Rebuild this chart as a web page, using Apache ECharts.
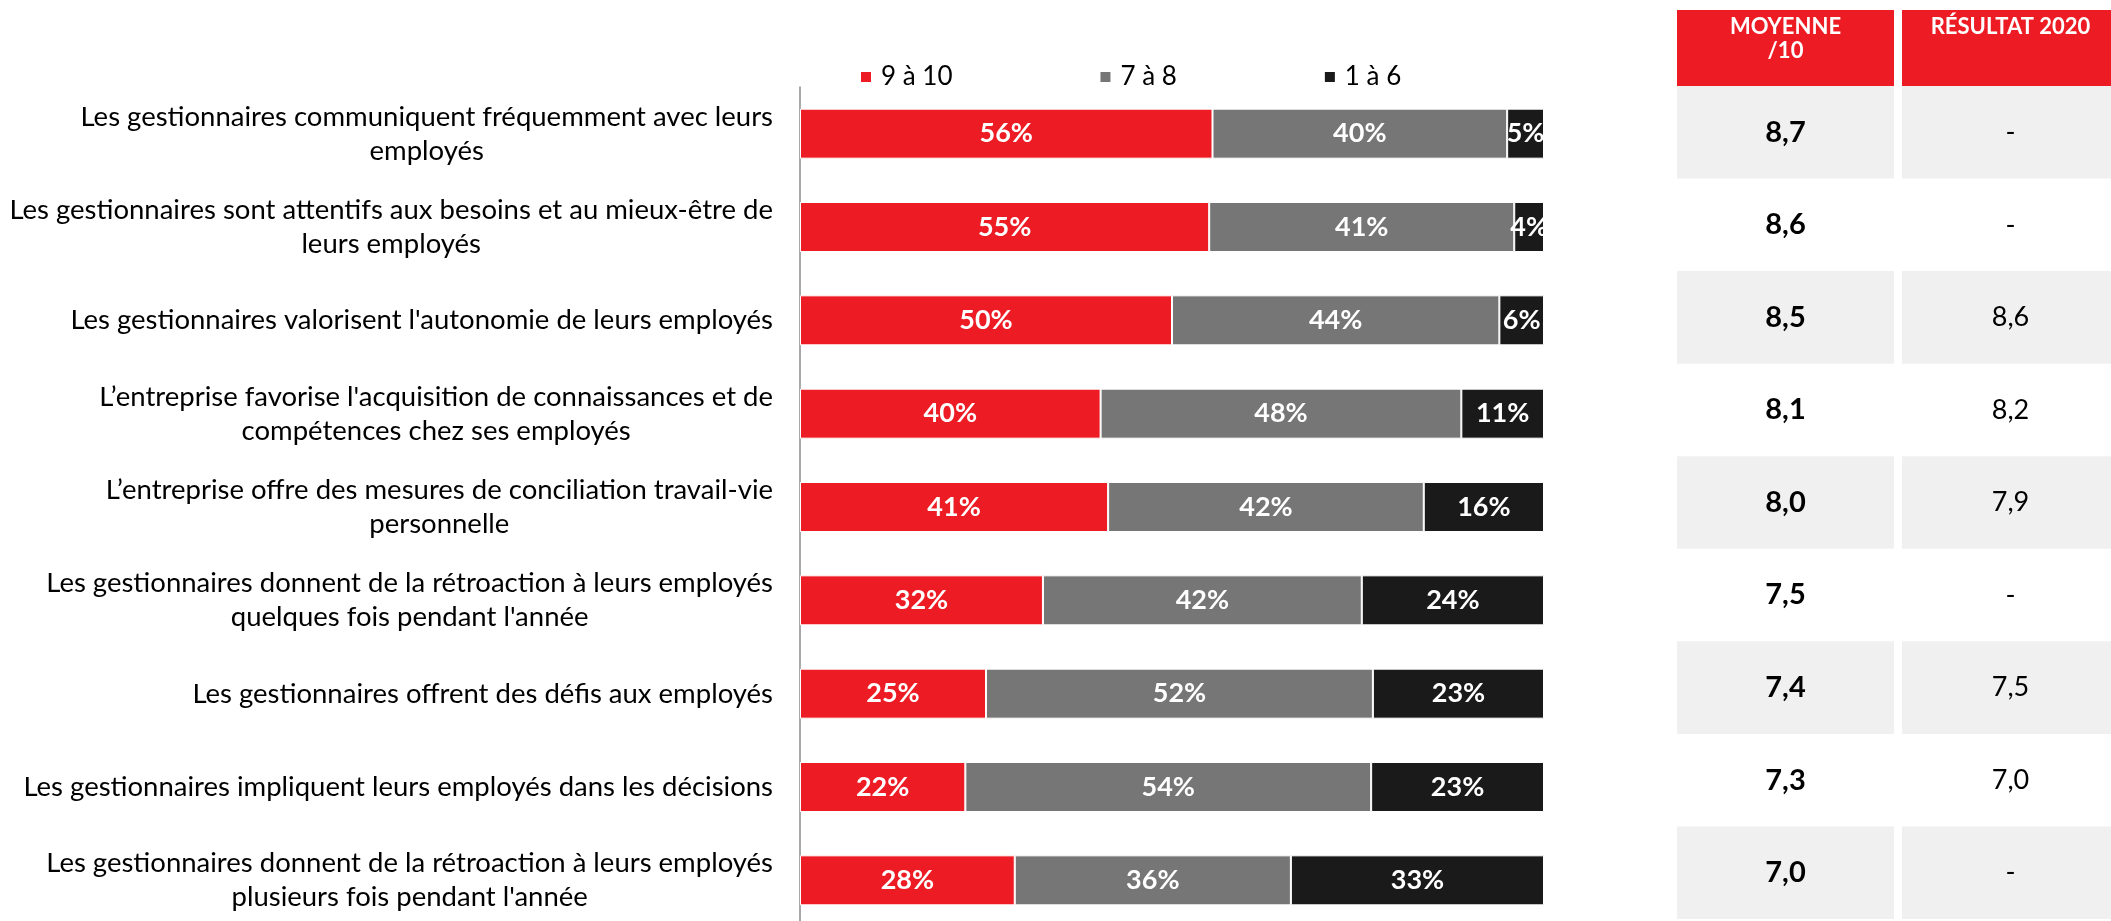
<!DOCTYPE html>
<html>
<head>
<meta charset="utf-8">
<script src="https://cdn.jsdelivr.net/npm/echarts@6/dist/echarts.min.js"></script>
<style>
  html, body { margin: 0; padding: 0; background: #ffffff; }
  #chart { width: 2111px; height: 921px; }
</style>
</head>
<body>
<div id="chart"></div>
<script>
// Statements (one per row, with their own line breaks)
const categories = [
  "Les gestionnaires communiquent fréquemment avec leurs\nemployés",
  "Les gestionnaires sont attentifs aux besoins et au mieux-être de\nleurs employés",
  "Les gestionnaires valorisent l'autonomie de leurs employés",
  "L’entreprise favorise l'acquisition de connaissances et de\ncompétences chez ses employés",
  "L’entreprise offre des mesures de conciliation travail-vie\npersonnelle",
  "Les gestionnaires donnent de la rétroaction à leurs employés\nquelques fois pendant l'année",
  "Les gestionnaires offrent des défis aux employés",
  "Les gestionnaires impliquent leurs employés dans les décisions",
  "Les gestionnaires donnent de la rétroaction à leurs employés\nplusieurs fois pendant l'année"
];

// Score groups (percent of respondents)
const seriesNames = ["9 à 10", "7 à 8", "1 à 6"];
const score9to10 = [56, 55, 50, 40, 41, 32, 25, 22, 28];
const score7to8  = [40, 41, 44, 48, 42, 42, 52, 54, 36];
const score1to6  = [5, 4, 6, 11, 16, 24, 23, 23, 33];

// Side table
const tableHeaders = ["MOYENNE\n/10", "RÉSULTAT 2020"];
const moyenne = [8.7, 8.6, 8.5, 8.1, 8.0, 7.5, 7.4, 7.3, 7.0];
const resultat2020 = [null, null, 8.6, 8.2, 7.9, null, 7.5, 7.0, null];

const FONT = 'Lato, "Open Sans", sans-serif';
const COLORS = ['#ED1C24', '#767676', '#1A1A1A'];

const groups = [score9to10, score7to8, score1to6];
const totals = score9to10.map((v, i) => score9to10[i] + score7to8[i] + score1to6[i]);

function fmtScore(v) {
  return v == null ? '-' : v.toFixed(1).replace('.', ',');
}

const barSeries = groups.map((vals, k) => ({
  name: seriesNames[k],
  type: 'bar',
  stack: 'total',
  xAxisIndex: 0,
  yAxisIndex: 0,
  barWidth: 50,
  itemStyle: { color: COLORS[k], borderColor: '#ffffff', borderWidth: 1 },
  label: {
    show: true,
    position: 'inside',
    color: '#ffffff',
    fontFamily: FONT,
    fontWeight: 'bold',
    fontSize: 27,
    textBorderWidth: 0,
    formatter: p => vals[p.dataIndex] + '%'
  },
  emphasis: { disabled: true },
  // each row fills the full bar length (shares of the row total)
  data: vals.map((v, i) => v / totals[i] * 100)
}));

function tableSeries(col, values, bold) {
  return {
    type: 'custom',
    xAxisIndex: 1,
    yAxisIndex: 1,
    silent: true,
    clip: false,
    data: values.map((v, i) => [col, i]),
    encode: { x: 0, y: 1 },
    renderItem: (params, api) => {
      const row = api.value(1);
      const c = api.coord([api.value(0), row]);
      const bandH = api.size([0, 1])[1];
      const cellW = 217;
      const children = [];
      if (row % 2 === 0) {
        children.push({
          type: 'rect',
          shape: { x: c[0] - cellW / 2, y: c[1] - bandH / 2, width: cellW, height: bandH },
          style: { fill: '#F0F0F0' }
        });
      }
      children.push({
        type: 'text',
        x: c[0],
        y: c[1],
        style: {
          text: fmtScore(values[params.dataIndex]),
          align: 'center',
          verticalAlign: 'middle',
          fontFamily: FONT,
          fontWeight: bold ? 'bold' : 'normal',
          fontSize: bold ? 29 : 27,
          fill: '#000000'
        }
      });
      return { type: 'group', children };
    }
  };
}

const chart = echarts.init(document.getElementById('chart'), null, { renderer: 'canvas' });

chart.setOption({
  backgroundColor: '#ffffff',
  animation: false,
  legend: {
    data: seriesNames,
    left: 859,
    top: 64,
    padding: 0,
    icon: 'rect',
    itemWidth: 12,
    itemHeight: 12,
    itemGap: 146,
    selectedMode: false,
    textStyle: { fontFamily: FONT, fontSize: 26, color: '#000000', padding: [0, 0, 0, 4] }
  },
  grid: [
    { left: 800, width: 744, top: 87, height: 840, outerBoundsMode: 'none', containLabel: false },
    { left: 1673, width: 450, top: 86, height: 833, outerBoundsMode: 'none', containLabel: false }
  ],
  xAxis: [
    { type: 'value', gridIndex: 0, min: 0, max: 100, show: false },
    {
      type: 'category',
      gridIndex: 1,
      position: 'top',
      data: tableHeaders,
      axisLine: { show: false },
      axisTick: { show: false },
      splitLine: { show: false },
      axisLabel: {
        interval: 0,
        margin: 0,
        // every header box holds two text lines so both boxes share one height
        formatter: v => v.split('\n').concat([' ']).slice(0, 2).map(l => '{h|' + l + '}').join('\n'),
        rich: {
          h: { fontFamily: FONT, fontWeight: 'bold', fontSize: 22, lineHeight: 24, color: '#ffffff', align: 'center' }
        },
        backgroundColor: '#ED1C24',
        width: 217,
        padding: [5, 0, 23, 0],
        align: 'center',
        verticalAlign: 'bottom'
      }
    }
  ],
  yAxis: [
    {
      type: 'category',
      gridIndex: 0,
      inverse: true,
      data: categories,
      axisLine: { show: true, lineStyle: { color: '#8C8C8C', width: 1.5 } },
      axisTick: { show: false },
      splitLine: { show: false },
      axisLabel: {
        interval: 0,
        margin: 27,
        color: '#000000',
        formatter: v => v.split('\n').map(l => '{c|' + l + '}').join('\n'),
        rich: {
          c: { align: 'center', fontFamily: FONT, fontSize: 27.5, lineHeight: 34, color: '#000000' }
        }
      }
    },
    {
      type: 'category',
      gridIndex: 1,
      inverse: true,
      data: categories,
      show: false
    }
  ],
  series: [
    ...barSeries,
    tableSeries(0, moyenne, true),
    tableSeries(1, resultat2020, false)
  ]
});
</script>
</body>
</html>
